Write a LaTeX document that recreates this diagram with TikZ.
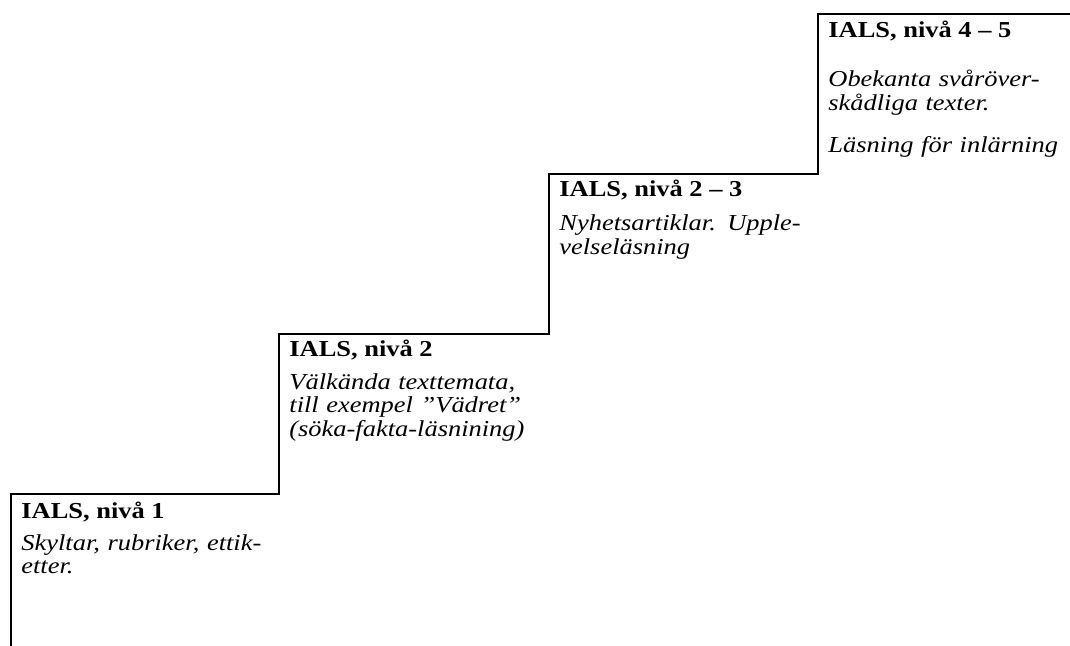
\documentclass[tikz,border=0pt]{standalone}
\usepackage{fontspec}
\setmainfont{Liberation Serif}[FakeStretch=1.16]
\usepackage{tikz}
\usetikzlibrary{positioning}

\begin{document}
\begin{tikzpicture}[x=0.5pt,y=-0.5pt]
				\tikzset{stair line/.style={line width=1pt}}
				\tikzset{stair title/.style={anchor=base west,inner sep=0pt,font=\fontsize{11.4}{11.8}\selectfont\bfseries}}
				\tikzset{stair text/.style={anchor=base west,inner sep=0pt,align=left,text width=130pt,font=\fontsize{11.4}{11.8}\selectfont\itshape}}
				\useasboundingbox (0,0) rectangle (1070,646);
				% corners of the stairs
				\coordinate (s0) at (11,646);
				\coordinate (s1) at (11,494);
				\coordinate (s2) at (279,494);
				\coordinate (s3) at (279,334);
				\coordinate (s4) at (549,334);
				\coordinate (s5) at (549,174);
				\coordinate (s6) at (818,174);
				\coordinate (s7) at (818,14);
				\coordinate (s8) at (1070,14);
				\draw[stair line] (s0) -- (s1) -- (s2) -- (s3) -- (s4) -- (s5) -- (s6) -- (s7) -- (s8);
				% level 1
				\node[stair title] (t1) at ([shift={(10,24)}]s1) {IALS, nivå 1};
				\node[stair text] (b1) at ([shift={(10,56)}]s1) {Skyltar, rubriker, ettik-\\etter.};
				% level 2
				\node[stair title] (t2) at ([shift={(10,23)}]s3) {IALS, nivå 2};
				\node[stair text] (b2) at ([shift={(10,55)}]s3) {Välkända texttemata,\\till exempel ”Vädret”\\(söka-fakta-läsnining)};
				% level 2-3
				\node[stair title] (t3) at ([shift={(10,23)}]s5) {IALS, nivå 2 – 3};
				\node[stair text] (b3) at ([shift={(10,57)}]s5) {Nyhetsartiklar. Upple-\\velseläsning};
				% level 4-5
				\node[stair title] (t4) at ([shift={(10,24)}]s7) {IALS, nivå 4 – 5};
				\node[stair text] (b4) at ([shift={(10,73)}]s7) {Obekanta svåröver-\\skådliga texter.\\[9pt]Läsning för inlärning};
			\end{tikzpicture}
\end{document}
